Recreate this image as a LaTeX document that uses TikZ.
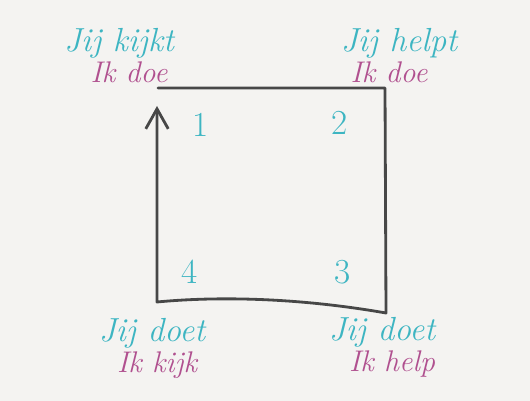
\documentclass[tikz,border=0pt]{standalone}
\usepackage{tikz}
\usetikzlibrary{arrows.meta,positioning}
\definecolor{paper}{HTML}{F4F3F1}
\definecolor{jijcol}{HTML}{3DB5C2}
\definecolor{ikcol}{HTML}{B0508F}
\definecolor{pen}{HTML}{474747}

\begin{document}
\begin{tikzpicture}[x=0.02cm, y=-0.02cm, >={Straight Barb[length=4mm,width=4.5mm]}, node distance=0mm]
        \tikzset{jij/.style={text=jijcol, font=\fontsize{19}{20}\selectfont\itshape, inner sep=1pt},
                 ik/.style={text=ikcol, font=\fontsize{17}{18}\selectfont\itshape, inner sep=0.5pt},
                 num/.style={text=jijcol, font=\fontsize{20}{22}\selectfont}}
        \fill[paper] (0,0) rectangle (530,401);
        % corners of the square
        \coordinate (tl) at (158,88);
        \coordinate (tr) at (385,88);
        \coordinate (br) at (386,313);
        \coordinate (bl) at (157,302);
        \coordinate (tip) at (157,106);
        \draw[pen, line width=1.6pt, line cap=round, line join=round, ->] (tl) -- (tr) -- (br) .. controls (300,298) and (220,296) .. (bl) -- (tip);
        \node[num] (one) at (201,125) {1};
        \node[num] (two) at (340,123) {2};
        \node[num] (three) at (343,272) {3};
        \node[num] (four) at (190,272) {4};
        % who does what
        \node[jij] (kijkt) at (119,43) {Jij kijkt};
        \node[ik, below=of kijkt, xshift=2mm] (doe1) {Ik doe};
        \node[jij] (helpt) at (399,43) {Jij helpt};
        \node[ik, below=of helpt, xshift=-2mm] (doe2) {Ik doe};
        \node[jij] (doet1) at (152,333) {Jij doet};
        \node[ik, below=of doet1, xshift=1mm] (kijk) {Ik kijk};
        \node[jij] (doet2) at (382,332) {Jij doet};
        \node[ik, below=of doet2, xshift=2mm] (help) {Ik help};
    \end{tikzpicture}
\end{document}
